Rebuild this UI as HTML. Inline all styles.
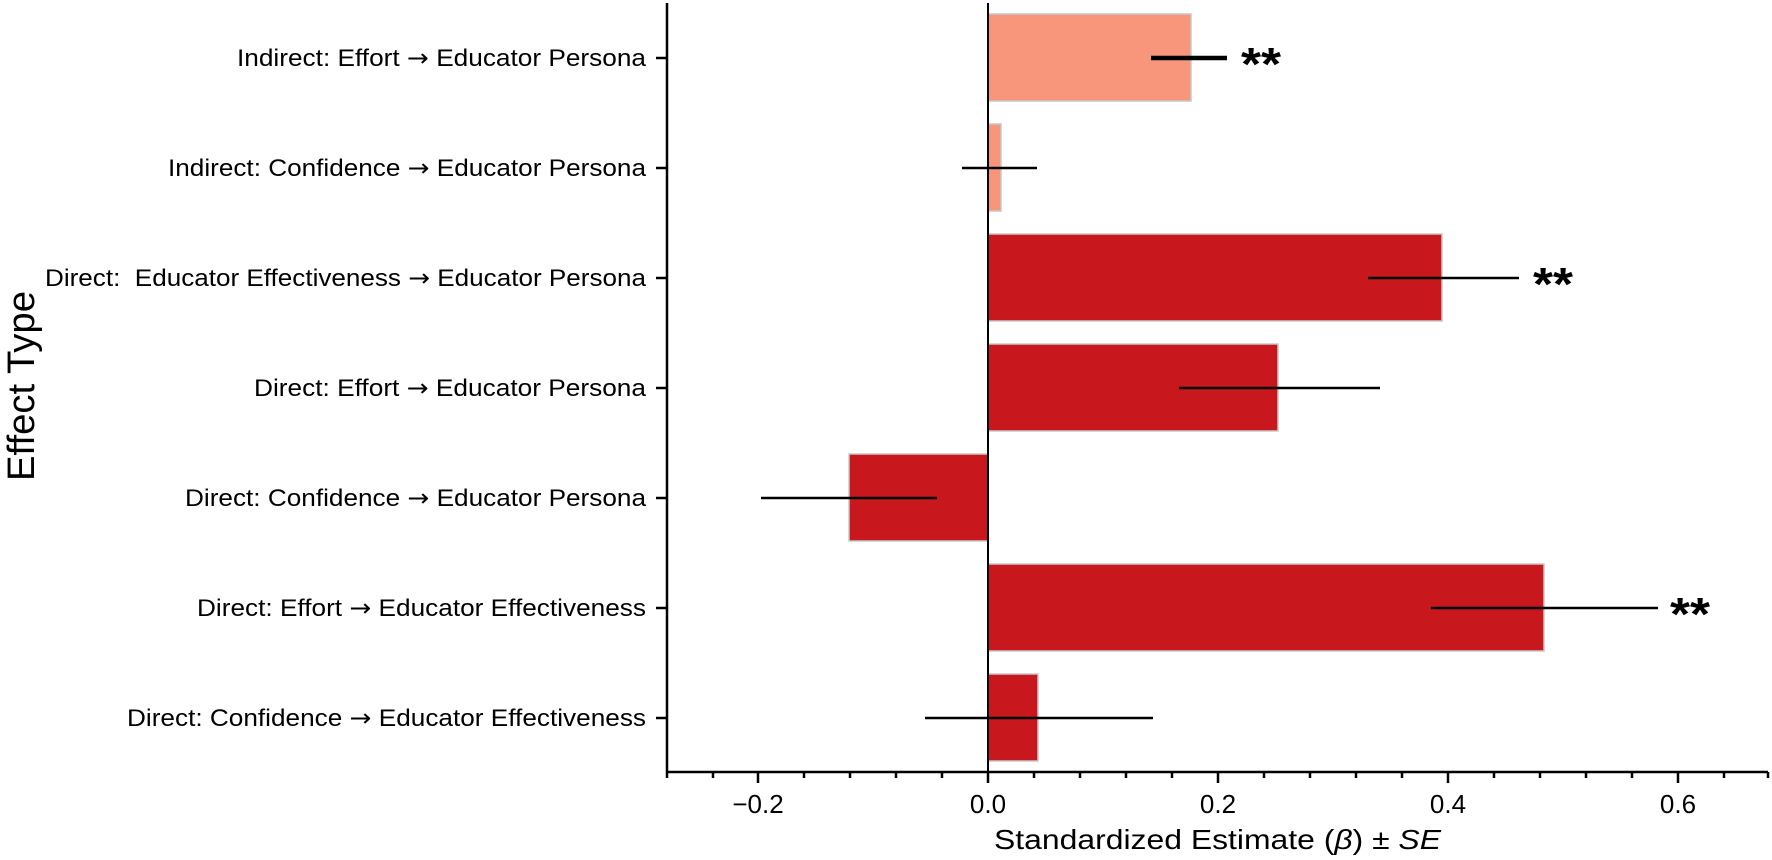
<!DOCTYPE html>
<html><head><meta charset="utf-8"><style>html,body{margin:0;padding:0;background:#fff}svg{display:block}</style></head>
<body>
<svg width="1772" height="860" viewBox="0 0 1772 860" xmlns="http://www.w3.org/2000/svg" font-family="Liberation Sans, Arial, sans-serif">
<rect width="1772" height="860" fill="#fff"/>
<g stroke="#c8c8c8" stroke-width="1.5">
<rect x="988" y="14" width="203" height="87" fill="#F7967A"/>
<rect x="988" y="124" width="13" height="87" fill="#F7967A"/>
<rect x="988" y="234" width="454" height="87" fill="#C8181E"/>
<rect x="988" y="344" width="290" height="87" fill="#C8181E"/>
<rect x="849" y="454" width="139" height="87" fill="#C8181E"/>
<rect x="988" y="564" width="556" height="87" fill="#C8181E"/>
<rect x="988" y="674" width="50" height="87" fill="#C8181E"/>
</g>
<line x1="988" y1="3" x2="988" y2="771" stroke="#000" stroke-width="2"/>
<g stroke="#000" stroke-width="2.5">
<line x1="1151" y1="58" x2="1227" y2="58" stroke-width="4.5"/>
<line x1="962" y1="168" x2="1037" y2="168"/>
<line x1="1368" y1="278" x2="1519" y2="278"/>
<line x1="1179" y1="388" x2="1380" y2="388"/>
<line x1="761" y1="498" x2="937" y2="498"/>
<line x1="1431" y1="608" x2="1658" y2="608"/>
<line x1="925" y1="718" x2="1153" y2="718"/>
</g>
<g font-size="46" font-weight="bold" fill="#000">
<text x="1241" y="80" textLength="40" lengthAdjust="spacingAndGlyphs">**</text>
<text x="1533" y="300" textLength="40" lengthAdjust="spacingAndGlyphs">**</text>
<text x="1670" y="630" textLength="40" lengthAdjust="spacingAndGlyphs">**</text>
</g>
<line x1="667" y1="3" x2="667" y2="772" stroke="#000" stroke-width="2.5"/>
<line x1="666" y1="772" x2="1768" y2="772" stroke="#000" stroke-width="2.5"/>
<g stroke="#000" stroke-width="2.5">
<line x1="667" y1="772" x2="667" y2="778"/>
<line x1="713" y1="772" x2="713" y2="778"/>
<line x1="758" y1="772" x2="758" y2="783"/>
<line x1="804" y1="772" x2="804" y2="778"/>
<line x1="850" y1="772" x2="850" y2="778"/>
<line x1="896" y1="772" x2="896" y2="778"/>
<line x1="942" y1="772" x2="942" y2="778"/>
<line x1="988" y1="772" x2="988" y2="783"/>
<line x1="1034" y1="772" x2="1034" y2="778"/>
<line x1="1080" y1="772" x2="1080" y2="778"/>
<line x1="1126" y1="772" x2="1126" y2="778"/>
<line x1="1172" y1="772" x2="1172" y2="778"/>
<line x1="1218" y1="772" x2="1218" y2="783"/>
<line x1="1264" y1="772" x2="1264" y2="778"/>
<line x1="1310" y1="772" x2="1310" y2="778"/>
<line x1="1356" y1="772" x2="1356" y2="778"/>
<line x1="1402" y1="772" x2="1402" y2="778"/>
<line x1="1448" y1="772" x2="1448" y2="783"/>
<line x1="1494" y1="772" x2="1494" y2="778"/>
<line x1="1540" y1="772" x2="1540" y2="778"/>
<line x1="1586" y1="772" x2="1586" y2="778"/>
<line x1="1632" y1="772" x2="1632" y2="778"/>
<line x1="1678" y1="772" x2="1678" y2="783"/>
<line x1="1724" y1="772" x2="1724" y2="778"/>
<line x1="1768" y1="772" x2="1768" y2="778"/>
</g>
<g stroke="#000" stroke-width="2.5">
<line x1="656" y1="58" x2="667" y2="58"/>
<line x1="656" y1="168" x2="667" y2="168"/>
<line x1="656" y1="278" x2="667" y2="278"/>
<line x1="656" y1="388" x2="667" y2="388"/>
<line x1="656" y1="498" x2="667" y2="498"/>
<line x1="656" y1="608" x2="667" y2="608"/>
<line x1="656" y1="718" x2="667" y2="718"/>
</g>
<g font-size="26" fill="#000" text-anchor="middle">
<text x="758" y="813">−0.2</text>
<text x="988" y="813">0.0</text>
<text x="1218" y="813">0.2</text>
<text x="1448" y="813">0.4</text>
<text x="1678" y="813">0.6</text>
</g>
<g font-size="24" fill="#000">
<text x="237" y="66" textLength="409" lengthAdjust="spacingAndGlyphs">Indirect: Effort <tspan font-family="DejaVu Sans">→</tspan> Educator Persona</text>
<text x="168" y="176" textLength="478" lengthAdjust="spacingAndGlyphs">Indirect: Confidence <tspan font-family="DejaVu Sans">→</tspan> Educator Persona</text>
<text x="45" y="286" textLength="601" lengthAdjust="spacingAndGlyphs" xml:space="preserve">Direct:  Educator Effectiveness <tspan font-family="DejaVu Sans">→</tspan> Educator Persona</text>
<text x="254" y="396" textLength="392" lengthAdjust="spacingAndGlyphs">Direct: Effort <tspan font-family="DejaVu Sans">→</tspan> Educator Persona</text>
<text x="185" y="506" textLength="461" lengthAdjust="spacingAndGlyphs">Direct: Confidence <tspan font-family="DejaVu Sans">→</tspan> Educator Persona</text>
<text x="197" y="616" textLength="449" lengthAdjust="spacingAndGlyphs">Direct: Effort <tspan font-family="DejaVu Sans">→</tspan> Educator Effectiveness</text>
<text x="127" y="726" textLength="519" lengthAdjust="spacingAndGlyphs">Direct: Confidence <tspan font-family="DejaVu Sans">→</tspan> Educator Effectiveness</text>
</g>
<text transform="translate(34,386) rotate(-90)" font-size="38" text-anchor="middle" textLength="190" lengthAdjust="spacingAndGlyphs">Effect Type</text>
<text x="994" y="849" font-size="28" textLength="447" lengthAdjust="spacingAndGlyphs">Standardized Estimate (<tspan font-style="italic">β</tspan>) ± <tspan font-style="italic">SE</tspan></text>
</svg>
</body></html>
